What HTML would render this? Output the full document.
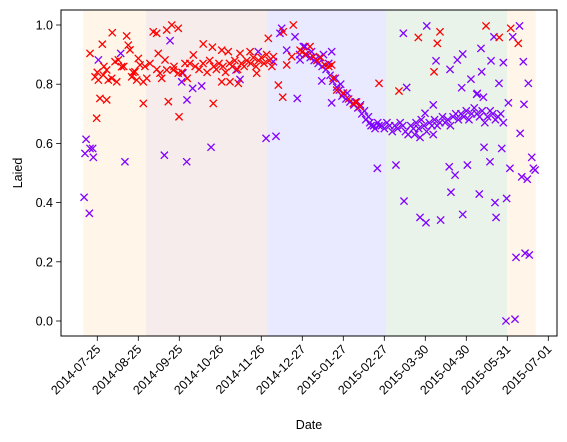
<!DOCTYPE html>
<html><head><meta charset="utf-8"><style>
body{margin:0;background:#fff;}
svg{display:block;font-family:"Liberation Sans",sans-serif;}
</style></head><body>
<svg id="chart" width="567" height="442" viewBox="0 0 567 442" xmlns="http://www.w3.org/2000/svg"></svg>
<script>
const tickLabels=["2014-07-25","2014-08-25","2014-09-25","2014-10-26","2014-11-26","2014-12-27","2015-01-27","2015-02-27","2015-03-30","2015-04-30","2015-05-31","2015-07-01"];
const yTicks=[0.0,0.2,0.4,0.6,0.8,1.0];
const spanStarts=[-10.6,36.8,128.3,218.3,309.8];
const spanEnds=[36.8,128.3,218.3,309.8,331.5];
const spanColors=["#fff6e9","#f7ecec","#e9e9ff","#e9f3e9","#fff6e9"];
const redDays=[-5.5,3.8,11.3,22.2,23.4,24.7,13.4,15.9,18.4,7.1,-1.7,0.8,4.5,8.3,10.9,14.7,26,28.5,31,32.3,29.8,34.8,37.4,39.8,42.3,44.9,46.1,47.4,51.2,52.5,56.3,61.2,52.5,57.5,61.2,66.3,2,7.1,-0.5,34.8,53.7,61.8,48.7,80.1,87,94.1,99,72.6,115.5,107.9,87.7,129.3,148.2,140.6,136.9,140.2,143.2,147,153.3,94.1,100.3,106.6,120.5,133.1,70,74,77,80,83,85,88,90,92,95,97,100,102,104,106,109,111,113,116,118,120,122,124,126,128,130,132,0,5,20,27,36,45,58,64,68,160.8,163.3,172.1,177.2,178.4,181,193.6,198.6,213,228.1,242.7,155,158,166,169,175,186,190,196,259.1,257.1,254.6,293.9,303.9,312.6,318.3];
const redVals=[0.904,0.935,0.974,0.963,0.932,0.916,0.876,0.882,0.859,0.848,0.825,0.814,0.831,0.814,0.820,0.808,0.825,0.842,0.887,0.865,0.814,0.808,0.820,0.870,0.977,0.972,0.904,0.837,0.882,0.848,1.0,0.989,0.983,0.848,0.837,0.870,0.752,0.747,0.685,0.735,0.741,0.690,0.820,0.936,0.925,0.915,0.910,0.899,0.910,0.904,0.735,0.955,1.0,0.977,0.797,0.756,0.865,0.893,0.915,0.808,0.808,0.803,0.837,0.893,0.87,0.86,0.85,0.87,0.84,0.88,0.86,0.85,0.87,0.86,0.84,0.87,0.86,0.88,0.85,0.87,0.86,0.88,0.87,0.89,0.86,0.88,0.89,0.87,0.9,0.88,0.86,0.84,0.86,0.86,0.84,0.86,0.85,0.86,0.84,0.82,0.927,0.893,0.865,0.865,0.820,0.780,0.735,0.724,0.803,0.777,0.958,0.91,0.9,0.88,0.89,0.86,0.77,0.75,0.74,0.977,0.938,0.842,0.997,0.958,0.989,0.938];
const purpleDays=[0.8,17.7,55,64.8,63.8,67.8,-8.5,-9.3,-5.5,-3.5,-3,-10,-6,20.9,50.7,67.6,86,127.6,135.1,151.2,78.9,72.1,104.9,107.9,121.7,133.1,138.1,139.4,143.2,149.5,153.3,155.8,157,177.2,169.7,177.2,231.4,233.9,249.1,247.8,256.1,272.2,276.3,266.7,290.1,297.7,307,290.6,282.5,275.5,303.7,287.3,291.9,310.8,322.6,254,319.2,299.9,314.1,322.1,325.9,319.7,211.7,225.8,231.9,244,248.5,259.6,266.1,270.5,267.4,276.3,279.8,288.8,292.4,296.9,300.7,301.5,305.8,309.5,312,320.9,325.1,328.5,329.7,331,316.6,323.4,326.6,309,315.8,286.9,153,157,161,164,167,170,173,176,178,181,183,185,188,191,194,197,200,203,206,209,212,162,168,171,175,180,184,189,195,199,202,205,207,210,213,215,217,219,221,223,225,227,229,231,233,235,237,239,241,243,245,247,249,251,253,255,257,259,261,263,265,267,269,271,273,275,277,279,281,283,285,287,289,291,293,295,297,299,301,303,305,307,240,244,254];
const purpleVals=[0.882,0.904,0.947,0.838,0.808,0.747,0.614,0.566,0.583,0.583,0.553,0.418,0.364,0.538,0.560,0.538,0.587,0.617,0.624,0.752,0.794,0.786,0.848,0.816,0.910,0.876,0.972,0.989,0.915,0.960,0.882,0.927,0.927,0.910,0.811,0.737,0.972,0.789,0.997,0.702,0.879,0.882,0.902,0.850,0.921,0.879,0.873,0.842,0.817,0.788,0.803,0.769,0.756,0.737,0.732,0.730,0.997,0.960,0.960,0.876,0.803,0.634,0.516,0.527,0.405,0.350,0.332,0.341,0.521,0.493,0.435,0.360,0.527,0.429,0.587,0.538,0.400,0.350,0.583,0.414,0.516,0.487,0.479,0.553,0.516,0.510,0.215,0.229,0.223,0.0,0.006,0.766,0.9,0.9,0.89,0.88,0.87,0.86,0.85,0.83,0.81,0.79,0.78,0.76,0.75,0.74,0.73,0.72,0.70,0.68,0.67,0.66,0.67,0.91,0.89,0.90,0.87,0.82,0.80,0.77,0.74,0.73,0.71,0.69,0.66,0.65,0.66,0.66,0.65,0.67,0.66,0.64,0.66,0.65,0.67,0.66,0.64,0.63,0.66,0.65,0.67,0.65,0.68,0.66,0.64,0.67,0.66,0.68,0.66,0.67,0.69,0.67,0.68,0.66,0.69,0.70,0.68,0.70,0.69,0.71,0.68,0.70,0.72,0.70,0.69,0.71,0.67,0.69,0.71,0.70,0.68,0.69,0.70,0.67,0.63,0.62,0.63];

const NS="http://www.w3.org/2000/svg";
const svg=document.getElementById('chart');
const L=61,R=557,T=10,B=336;
const X0=97.3,PXD=1.3226;
function xs(d){return X0+d*PXD;}
function ys(v){return 321-v*296;}
function mk(tag,attrs,parent){const e=document.createElementNS(NS,tag);for(const k in attrs)e.setAttribute(k,attrs[k]);(parent||svg).appendChild(e);return e;}
const base=Date.UTC(2014,6,25);
function dayOf(s){const p=s.split('-');return (Date.UTC(+p[0],+p[1]-1,+p[2])-base)/86400000;}

for(let i=0;i<spanStarts.length;i++){
  const r=mk('rect',{x:xs(spanStarts[i]),y:T,width:xs(spanEnds[i])-xs(spanStarts[i]),height:B-T,fill:spanColors[i]});
  
  
}
function cross(d,v,color,name){
  const x=xs(d),y=ys(v),s=3.6;
  const p=mk('path',{d:`M${x-s},${y-s}L${x+s},${y+s}M${x-s},${y+s}L${x+s},${y-s}`,stroke:color,'stroke-width':1.3,fill:'none'});
  
  
}
for(let i=0;i<purpleDays.length;i++)cross(purpleDays[i],purpleVals[i],'#8000ff','purple-point');
for(let i=0;i<redDays.length;i++)cross(redDays[i],redVals[i],'#ff0000','red-point');

const fr=mk('rect',{x:L,y:T,width:R-L,height:B-T,fill:'none',stroke:'#000','stroke-width':1});



yTicks.forEach(v=>{
  const y=ys(v);
  mk('line',{x1:L-4.9,x2:L,y1:y,y2:y,stroke:'#000','stroke-width':0.8});
  const t=mk('text',{x:L-8,y:y+4.5,'text-anchor':'end','font-size':12.5,fill:'#000'});
  t.textContent=v.toFixed(1);
  
  
});
tickLabels.forEach(s=>{
  const x=xs(dayOf(s));
  mk('line',{x1:x,x2:x,y1:B,y2:B+4.9,stroke:'#000','stroke-width':0.8});
  const ax=x+4,ay=B+14;
  const t=mk('text',{x:ax,y:ay,'text-anchor':'end','font-size':12.5,fill:'#000',transform:`rotate(-45 ${ax} ${ay})`});
  t.textContent=s;
  
  
});
const yl=mk('text',{x:22,y:(T+B)/2,'text-anchor':'middle','font-size':12.5,transform:`rotate(-90 22 ${(T+B)/2})`});
yl.textContent='Laied';


const xl=mk('text',{x:(L+R)/2,y:429,'text-anchor':'middle','font-size':12.5});
xl.textContent='Date';


</script>
</body></html>
